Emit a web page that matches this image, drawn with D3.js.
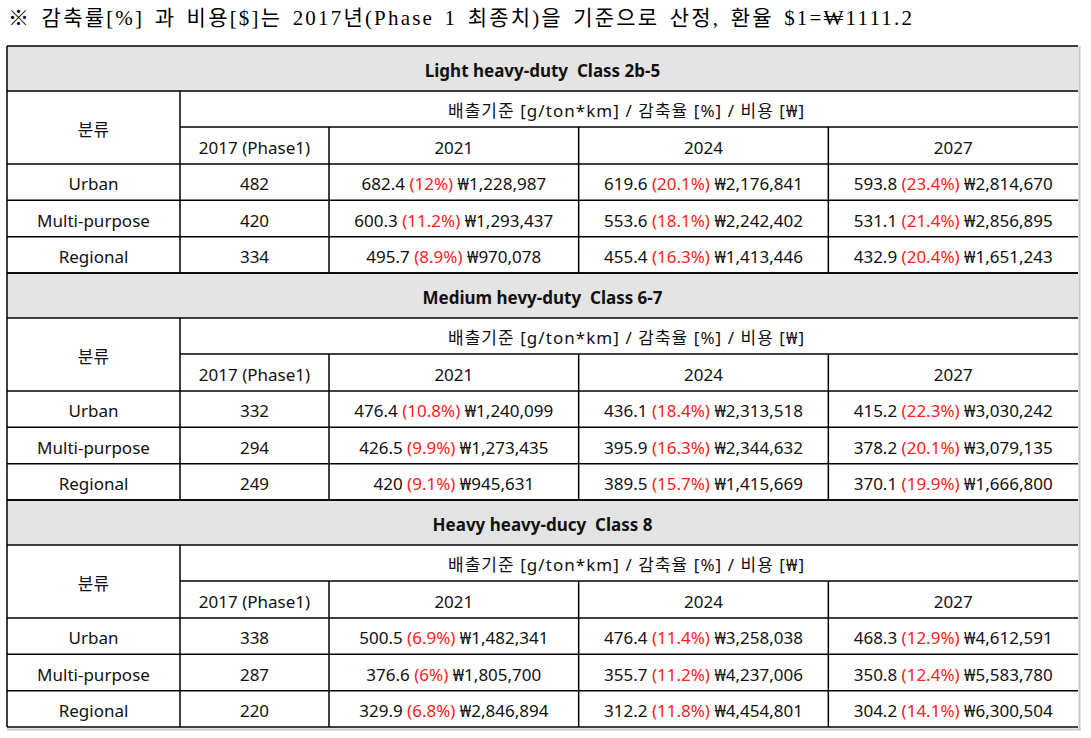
<!DOCTYPE html>
<html><head><meta charset="utf-8">
<script src="https://cdn.jsdelivr.net/npm/d3@7"></script>
<style>
body{margin:0;background:#fff}
text{white-space:pre}
</style>
</head><body>
<svg id="c" width="1091" height="738"></svg>
<script>
const note = "※ 감축률[%] 과 비용[$]는 2017년(Phase 1 최종치)을 기준으로 산정, 환율 $1=₩1111.2";
const sectionTitles = ["Light heavy-duty  Class 2b-5", "Medium hevy-duty  Class 6-7", "Heavy heavy-ducy  Class 8"];
const firstHeader = "분류";
const groupHeader = "배출기준 [g/ton*km] / 감축율 [%] / 비용 [₩]";
const baseHeader = "2017 (Phase1)";
const categories = ["Urban", "Multi-purpose", "Regional"];
const years = ["2021", "2024", "2027"];
const base2017 = [[482, 420, 334], [332, 294, 249], [338, 287, 220]];
const emission = [
  [[682.4, 619.6, 593.8], [600.3, 553.6, 531.1], [495.7, 455.4, 432.9]],
  [[476.4, 436.1, 415.2], [426.5, 395.9, 378.2], [420, 389.5, 370.1]],
  [[500.5, 476.4, 468.3], [376.6, 355.7, 350.8], [329.9, 312.2, 304.2]]
];
const reduction = [
  [[12, 20.1, 23.4], [11.2, 18.1, 21.4], [8.9, 16.3, 20.4]],
  [[10.8, 18.4, 22.3], [9.9, 16.3, 20.1], [9.1, 15.7, 19.9]],
  [[6.9, 11.4, 12.9], [6, 11.2, 12.4], [6.8, 11.8, 14.1]]
];
const cost = [
  [[1228987, 2176841, 2814670], [1293437, 2242402, 2856895], [970078, 1413446, 1651243]],
  [[1240099, 2313518, 3030242], [1273435, 2344632, 3079135], [945631, 1415669, 1666800]],
  [[1482341, 3258038, 4612591], [1805700, 4237006, 5583780], [2846894, 4454801, 6300504]]
];

const svg = d3.select("#c");
const FONT = "'Noto Sans','Noto Sans CJK KR',sans-serif";
const FS = 17;
const xL = 7, xCat = 180, xBase = 329, xR = 1078;
const secY = d3.scaleBand().domain(d3.range(sectionTitles.length)).range([46, 727]);
const yearX = d3.scaleBand().domain(years).range([xBase, xR]);
const TITLE_H = 45, H1 = 81, H2 = 118;
const rowY = d3.scaleBand().domain(categories).range([H2, secY.bandwidth()]);
const fmt = d3.format(",");

svg.append("rect").attr("width", 1091).attr("height", 738).attr("fill", "#fff");

svg.append("text").attr("x", 8).attr("y", 25)
  .attr("font-family", "'Liberation Serif','Noto Sans CJK KR',serif")
  .attr("font-size", 21).attr("fill", "#000").attr("word-spacing", 3)
  .attr("textLength", 904).attr("lengthAdjust", "spacing").text(note);

function ctext(g, x, y0, y1, str, opts = {}) {
  return g.append("text").attr("x", x).attr("y", (y0 + y1) / 2 + 8)
    .attr("text-anchor", "middle").attr("font-family", FONT)
    .attr("font-size", FS).attr("font-weight", opts.bold ? "bold" : "normal")
    .attr("fill", "#111").text(str);
}

const grid = svg.append("g");
sectionTitles.forEach((title, s) => {
  const y0 = secY(s);
  const g = svg.append("g");
  g.append("rect").attr("x", xL).attr("y", y0).attr("width", xR - xL).attr("height", TITLE_H).attr("fill", "#e4e4e4");
  ctext(g, (xL + xR) / 2, y0, y0 + TITLE_H, title, {bold: true});
  ctext(g, (xL + xCat) / 2, y0 + TITLE_H, y0 + H2, firstHeader);
  ctext(g, (xCat + xR) / 2 - 3, y0 + TITLE_H, y0 + H1, groupHeader)
    .attr("textLength", 356).attr("lengthAdjust", "spacing");
  ctext(g, (xCat + xBase) / 2, y0 + H1, y0 + H2, baseHeader);
  years.forEach(yr => ctext(g, yearX(yr) + yearX.bandwidth() / 2, y0 + H1, y0 + H2, yr));
  categories.forEach((cat, i) => {
    const r0 = y0 + rowY(cat), r1 = r0 + rowY.bandwidth();
    ctext(g, (xL + xCat) / 2, r0, r1, cat);
    ctext(g, (xCat + xBase) / 2, r0, r1, String(base2017[s][i]));
    years.forEach((yr, j) => {
      const t = ctext(g, yearX(yr) + yearX.bandwidth() / 2, r0, r1, "");
      t.append("tspan").text(String(emission[s][i][j]) + " ");
      t.append("tspan").attr("fill", "#ff2020").text("(" + reduction[s][i][j] + "%)");
      t.append("tspan").text(" ₩" + fmt(cost[s][i][j]));
    });
  });
  const hl = (y, xa, xb) => grid.append("line").attr("x1", xa).attr("x2", xb).attr("y1", y).attr("y2", y);
  const vl = (x, ya, yb) => grid.append("line").attr("x1", x).attr("x2", x).attr("y1", ya).attr("y2", yb);
  hl(y0, xL, xR); hl(y0 + TITLE_H, xL, xR); hl(y0 + H1, xCat, xR); hl(y0 + H2, xL, xR);
  categories.forEach(cat => hl(y0 + rowY(cat) + rowY.bandwidth(), xL, xR));
  vl(xCat, y0 + TITLE_H, y0 + secY.bandwidth());
  vl(xBase, y0 + H1, y0 + secY.bandwidth());
  years.slice(1).forEach(yr => vl(yearX(yr), y0 + H1, y0 + secY.bandwidth()));
});
grid.append("line").attr("x1", xL).attr("x2", xL).attr("y1", 46).attr("y2", 727);
grid.selectAll("line").attr("stroke", "#000").attr("stroke-width", 1.5);
grid.raise();
svg.append("line").attr("x1", xR + 1.5).attr("x2", xR + 1.5).attr("y1", 46).attr("y2", 730).attr("stroke", "#c8c8c8").attr("stroke-width", 2);
svg.append("line").attr("x1", xL).attr("x2", xR + 2.5).attr("y1", 729.5).attr("y2", 729.5).attr("stroke", "#c8c8c8").attr("stroke-width", 2);
</script>
</body></html>
